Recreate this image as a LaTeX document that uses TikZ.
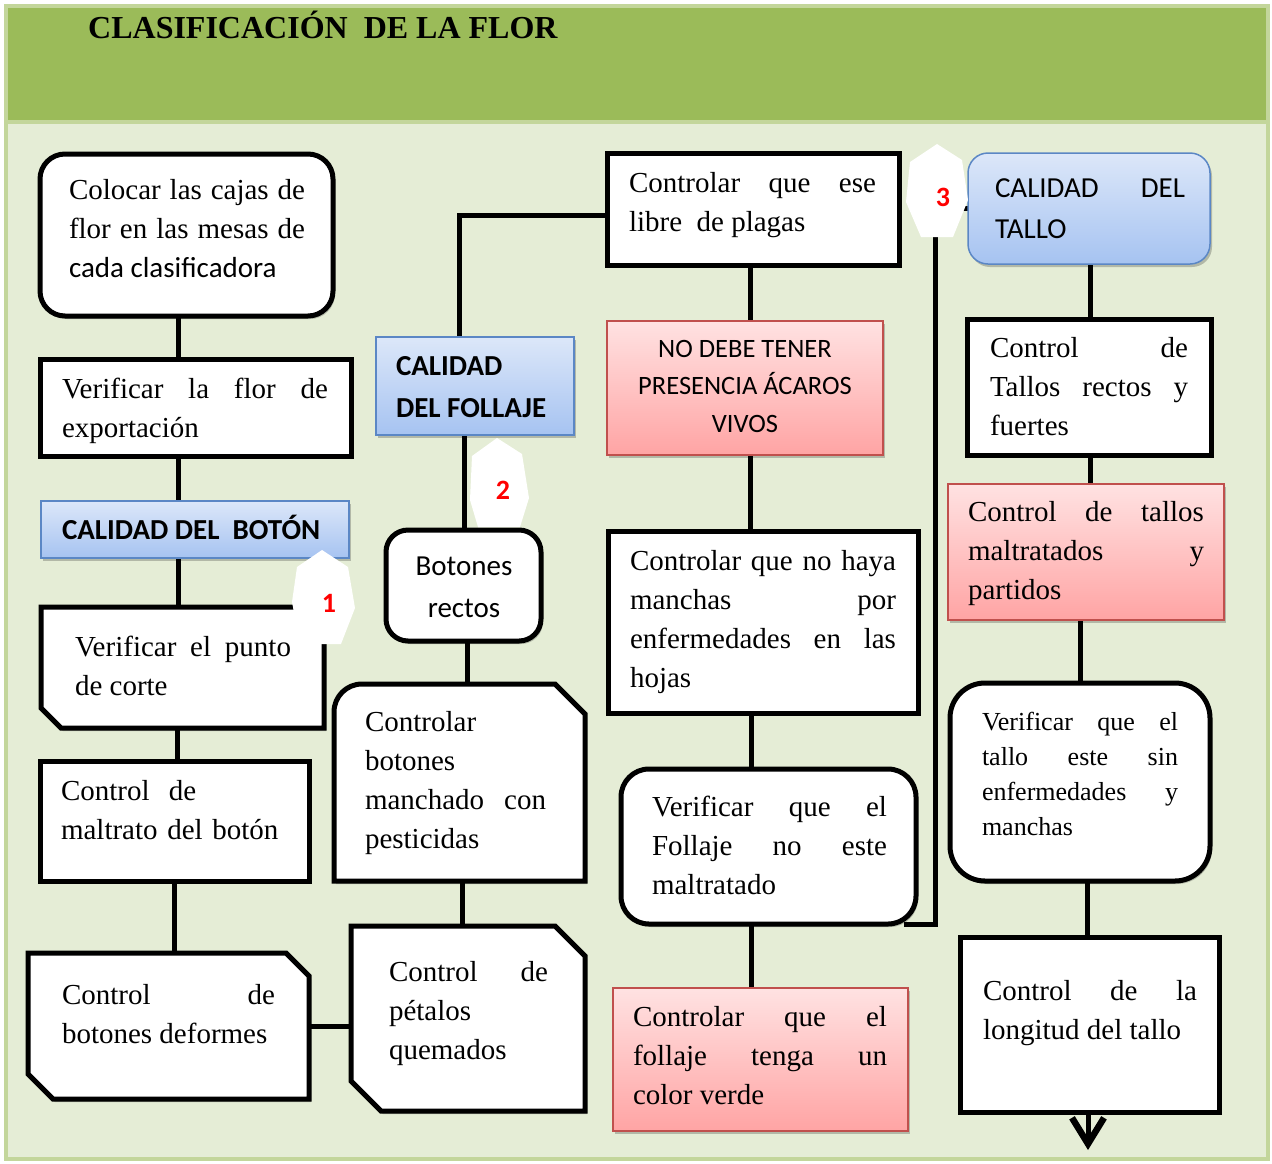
\documentclass[tikz,border=0pt]{standalone}
\usepackage{fontspec}
\setmainfont{Liberation Serif}
\newfontfamily\carl{Carlito}
\usetikzlibrary{calc,shadows,arrows.meta}
\pgfdeclarelayer{bg}
\pgfsetlayers{bg,main}

\definecolor{cHead}{HTML}{9BBB59}
\definecolor{cFrame}{HTML}{C3D69B}
\definecolor{cBody}{HTML}{E5EDD6}
\definecolor{cBlueTop}{HTML}{DCE7F9}
\definecolor{cBlueBot}{HTML}{A6C3F1}
\definecolor{cBlueLine}{HTML}{5B87C5}
\definecolor{cRedTop}{HTML}{FFE2E2}
\definecolor{cRedBot}{HTML}{FFA4A4}
\definecolor{cRedLine}{HTML}{C0504D}

\newcommand\serifsize{\fontsize{29}{39}\selectfont\tolerance=10000\relax\hyphenpenalty=10000\relax}
\newcommand\smallserif{\fontsize{26}{35}\selectfont\tolerance=10000\relax\hyphenpenalty=10000\relax}
\newcommand\sansjust{\carl\fontsize{29}{41}\selectfont\tolerance=10000\relax\hyphenpenalty=10000\relax}
\newcommand\titlefont{\fontsize{32}{36}\selectfont\bfseries}

% box node from its corner coordinates: style, name, x1, y1, x2, y2
\newcommand\mkbox[6]{%
  \pgfmathsetmacro\mkbw{#5-#3}\pgfmathsetmacro\mkbh{#6-#4}%
  \pgfmathsetmacro\mkbx{(#3+#5)/2}\pgfmathsetmacro\mkby{(#4+#6)/2}%
  \node[#1, minimum width=\mkbw pt, minimum height=\mkbh pt] (#2) at (\mkbx,\mkby) {};}

\begin{document}
\begin{tikzpicture}[x=1pt,y=-1pt,
  base/.style={rectangle, inner sep=0pt, outer sep=0pt},
  sh/.style={drop shadow={shadow xshift=2pt, shadow yshift=-3pt, opacity=0.22, fill=black}},
  blk/.style={base, draw=black, line width=5pt, fill=white, sh},
  rnd/.style={blk, rounded corners=#1},
  ghost/.style={base},
  blkline/.style={draw=black, line width=5pt, fill=white, sh},
  bluebox/.style={base, draw=cBlueLine, line width=1.5pt, top color=cBlueTop, bottom color=cBlueBot, sh},
  redbox/.style={base, draw=cRedLine, line width=1.5pt, top color=cRedTop, bottom color=cRedBot, sh},
  link/.style={draw=black, line width=5pt},
  txt/.style={inner sep=0pt, outer sep=0pt, anchor=north west, align=justify, font=\serifsize, text width=#1},
  sanslab/.style={inner sep=0pt, outer sep=0pt},
  hexnum/.style={inner sep=0pt, text=red, font=\carl\bfseries\fontsize{28}{30}\selectfont},
  hexfill/.style={fill=white}
]
\useasboundingbox (0,0) rectangle (1272,1163);

% ---------- boxes ----------
\mkbox{rnd=25pt}{B1}{40}{154}{333}{316}
\mkbox{blk}{B2}{40}{359}{351}{456}
\mkbox{bluebox}{B3}{41}{501}{349}{558}
\mkbox{ghost}{B4}{41}{607}{324}{728}
\draw[blkline] (B4.north west) -- (B4.north east) -- (B4.south east)
  -- ($(B4.south west)+(20,0)$) -- ($(B4.south west)+(0,-20)$) -- cycle;
\mkbox{blk}{B5}{40}{761}{309}{881}
\mkbox{ghost}{B6}{28}{953}{309}{1099}
\draw[blkline] (B6.north west) -- ($(B6.north east)+(-23,0)$) -- ($(B6.north east)+(0,23)$)
  -- (B6.south east) -- ($(B6.south west)+(25,0)$) -- ($(B6.south west)+(0,-25)$) -- cycle;

\mkbox{bluebox}{B7}{376}{337}{574}{435}
\mkbox{rnd=22pt}{B8}{386}{530}{541}{641}
\mkbox{ghost}{B9}{334}{684}{585}{881}
\draw[blkline] (B9.south west) -- ($(B9.north west)+(0,28)$)
  .. controls ($(B9.north west)+(0,12.5)$) and ($(B9.north west)+(12.5,0)$) .. ($(B9.north west)+(28,0)$)
  -- ($(B9.north east)+(-30,0)$) -- ($(B9.north east)+(0,30)$) -- (B9.south east) -- cycle;
\mkbox{ghost}{B10}{351}{926}{585}{1111}
\draw[blkline] (B10.north west) -- ($(B10.north east)+(-30,0)$) -- ($(B10.north east)+(0,30)$)
  -- (B10.south east) -- ($(B10.south west)+(30,0)$) -- ($(B10.south west)+(0,-30)$) -- cycle;

\mkbox{blk}{B11}{607}{153}{899}{265}
\mkbox{redbox}{B12}{607}{321}{883}{455}
\mkbox{blk}{B13}{608}{531}{918}{713}
\mkbox{rnd=28pt}{B14}{621}{769}{916}{924}
\mkbox{redbox}{B15}{613}{988}{908}{1131}

\mkbox{bluebox, rounded corners=20pt}{B16}{968}{153}{1210}{264}
\mkbox{blk}{B17}{967}{319}{1211}{455}
\mkbox{redbox}{B18}{948}{484}{1224}{620}
\mkbox{rnd=35pt}{B19}{950}{683}{1210}{881}
\mkbox{blk}{B20}{960}{937}{1219}{1112}

% ---------- background and connectors ----------
\begin{pgfonlayer}{bg}
\fill[white] (0,0) rectangle (1272,1163);
\draw[cFrame, line width=4pt, fill=cBody] (6,6) rectangle (1268,1159);
\fill[cHead] (8,8) rectangle (1266,120);
\draw[cFrame, line width=4pt] (8,122) -- (1266,122);

\draw[link] (178,0 |- B1.south) -- (178,0 |- B2.north);
\draw[link] (178,0 |- B2.south) -- (178,0 |- B3.north);
\draw[link] (178,0 |- B3.south) -- (178,0 |- B4.north);
\draw[link] (177,0 |- B4.south) -- (177,0 |- B5.north);
\draw[link] (174,0 |- B5.south) -- (174,0 |- B6.north);
\draw[link] (B6.east) -- (B6.east -| B10.west);

\draw[link] (459,0 |- B7.north) -- (459,215) -- (B11.west |- 459,215);
\draw[link] (464,0 |- B7.south) -- (464,0 |- B8.north);
\draw[link] (467,0 |- B8.south) -- (467,0 |- B9.north);
\draw[link] (462,0 |- B9.south) -- (462,0 |- B10.north);

\draw[link] (750,0 |- B11.south) -- (750,0 |- B12.north);
\draw[link] (750,0 |- B12.south) -- (750,0 |- B13.north);
\draw[link] (751,0 |- B13.south) -- (751,0 |- B14.north);
\draw[link] (751,0 |- B14.south) -- (751,0 |- B15.north);
\draw[link] ($(B14.south east)+(-12,0)$) -- (935,0 |- B14.south) -- (935,0 |- B16.west) -- (B16.west);

\draw[link] (1090,0 |- B16.south) -- (1090,0 |- B17.north);
\draw[link] (1090,0 |- B17.south) -- (1090,0 |- B18.north);
\draw[link] (1080,0 |- B18.south) -- (1080,0 |- B19.north);
\draw[link] (1087,0 |- B19.south) -- (1087,0 |- B20.north);
\coordinate (flowend) at (1088,1150);
\draw[link, -{Straight Barb[length=26pt,width=32pt,line width=6.5pt]}] (1088,0 |- B20.south) -- (flowend);
\end{pgfonlayer}

% ---------- title ----------
\node[anchor=base west, inner sep=0pt, font=\titlefont] (title) at (88,38) {CLASIFICACIÓN\ \ DE LA FLOR};

% ---------- texts ----------
\node[txt=236pt] (t1) at (69,179) {Colocar las cajas de\linebreak flor en las mesas de\linebreak {\carl cada clasificadora}};
\node[txt=266pt] (t2) at (62,378) {Verificar la flor de\linebreak exportación};
\node[sanslab, anchor=base west, font=\carl\bfseries\fontsize{29}{36}\selectfont] (t3) at (62,539) {CALIDAD DEL\ \ BOTÓN};
\node[txt=216pt] (t4) at (75,636) {Verificar el punto\linebreak de corte};
\node[txt=250pt, align=left] (t5) at (61,780) {Control\ \ de\\maltrato del botón};
\node[txt=213pt] (t6) at (62,984) {Control de\linebreak botones deformes};

\node[sanslab, anchor=north west, align=left, font=\carl\bfseries\fontsize{29}{42}\selectfont] (t7) at (396,356) {CALIDAD\\DEL FOLLAJE};
\node[sanslab, align=center, font=\carl\fontsize{29}{42}\selectfont] (t8) at (464,587) {Botones\\rectos};
\node[txt=181pt] (t9) at (365,711) {Controlar\linebreak botones\linebreak manchado con\linebreak pesticidas};
\node[txt=159pt] (t10) at (389,961) {Control de\linebreak pétalos\linebreak quemados};

\node[txt=247pt] (t11) at (629,172) {Controlar que ese\linebreak libre\ \ de plagas};
\node[sanslab, align=center, font=\carl\fontsize{26.5}{37.5}\selectfont] (t12) at (745,386) {NO DEBE TENER\\PRESENCIA ÁCAROS\\VIVOS};
\node[txt=266pt] (t13) at (630,550) {Controlar que no haya\linebreak manchas por\linebreak enfermedades en las\linebreak hojas};
\node[txt=235pt] (t14) at (652,796) {Verificar que el\linebreak Follaje no este\linebreak maltratado};
\node[txt=254pt] (t15) at (633,1006) {Controlar que el\linebreak follaje tenga un\linebreak color verde};

\node[txt=190pt, font=\sansjust] (t16) at (995,179) {CALIDAD DEL\linebreak TALLO};
\node[txt=198pt] (t17) at (990,337) {Control de\linebreak Tallos rectos y\linebreak fuertes};
\node[txt=236pt] (t18) at (968,501) {Control de tallos\linebreak maltratados y\linebreak partidos};
\node[txt=196pt, font=\smallserif] (t19) at (982,712) {Verificar que el\linebreak tallo este sin\linebreak enfermedades y\linebreak manchas};
\node[txt=214pt] (t20) at (983,980) {Control de la\linebreak longitud del tallo};

% ---------- numbered markers ----------
\fill[hexfill] (322,550) -- (348,567) -- (355,608) -- (341,644) -- (300,644) -- (292,602) -- (297,567) -- cycle;
\node[hexnum] (h1) at (329,603) {1};
\fill[hexfill] (497,438) -- (522,454) -- (529,498) -- (520,527) -- (478,527) -- (470,500) -- (472,456) -- cycle;
\node[hexnum] (h2) at (503,490) {2};
\fill[hexfill] (937,144) -- (962,160) -- (968,200) -- (953,237) -- (921,237) -- (906,202) -- (910,162) -- cycle;
\node[hexnum] (h3) at (943,197) {3};
\end{tikzpicture}
\end{document}
